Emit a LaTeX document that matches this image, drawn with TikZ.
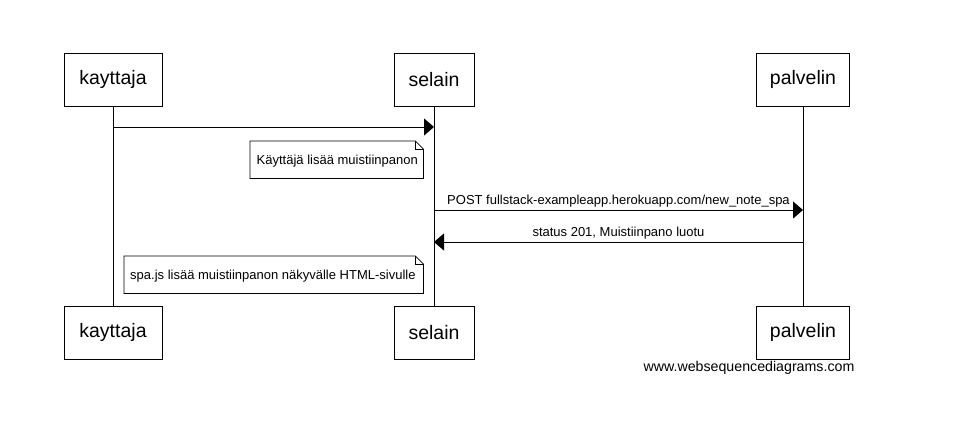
\documentclass[tikz,border=0pt]{standalone}
\usepackage{fontspec}
\setmainfont{Liberation Sans}
\usetikzlibrary{arrows.meta}
\begin{document}
\begin{tikzpicture}[x=1pt,y=-1pt,
  actor/.style={draw, line width=1pt, minimum height=53pt, inner sep=0pt, font=\fontsize{19.5}{22}\selectfont},
  life/.style={line width=1pt},
  msg/.style={line width=1pt, -{Triangle[length=10pt,width=17pt]}},
  lbl/.style={font=\fontsize{13}{15}\selectfont, inner sep=1pt, anchor=south},
  notetext/.style={font=\fontsize{13}{15}\selectfont, anchor=west, inner sep=0pt},
  noteline/.style={line width=0.8pt}
]
\useasboundingbox (0,0) rectangle (962,445);
\fill[white] (0,0) rectangle (962,445);

% actors top
\node[actor, minimum width=98pt] (kt) at (113,79.5) {kayttaja};
\node[actor, minimum width=80pt] (st) at (434,79.5) {selain};
\node[actor, minimum width=93pt] (pt) at (803,79.5) {palvelin};
% actors bottom
\node[actor, minimum width=98pt] (kb) at (113,332.5) {kayttaja};
\node[actor, minimum width=80pt] (sb) at (434,332.5) {selain};
\node[actor, minimum width=93pt] (pb) at (803,332.5) {palvelin};

% lifelines
\draw[life] (kt.south) -- (kb.north);
\draw[life] (st.south) -- (sb.north);
\draw[life] (pt.south) -- (pb.north);

% message points
\coordinate (k1) at (113,127);
\coordinate (s1) at (434,127);
\coordinate (s2) at (434,210);
\coordinate (p2) at (803,210);
\coordinate (s3) at (434,242);
\coordinate (p3) at (803,242);

\draw[msg] (k1) -- (s1);
\draw[msg] (s2) -- node[lbl, pos=0.5, yshift=1pt] {POST fullstack-exampleapp.herokuapp.com/new\_note\_spa} (p2);
\draw[msg] (p3) -- node[lbl, pos=0.5, yshift=1pt] {status 201, Muistiinpano luotu} (s3);

% note 1
\node[draw=none, minimum width=173pt, minimum height=37pt, anchor=north west, inner sep=0pt] (n1) at (250,141) {};
\draw[noteline] (n1.south west) -- (n1.north west) -- ([xshift=-8pt]n1.north east) -- ([yshift=-8pt]n1.north east) -- (n1.south east) -- cycle;
\draw[noteline] ([xshift=-8pt]n1.north east) -- ([xshift=-8pt,yshift=-8pt]n1.north east) -- ([yshift=-8pt]n1.north east);
\node[notetext] (t1) at ([xshift=6.5pt,yshift=-1pt]n1.west) {Käyttäjä lisää muistiinpanon};

% note 2
\node[draw=none, minimum width=299pt, minimum height=37pt, anchor=north west, inner sep=0pt] (n2) at (124,256) {};
\draw[noteline] (n2.south west) -- (n2.north west) -- ([xshift=-8pt]n2.north east) -- ([yshift=-8pt]n2.north east) -- (n2.south east) -- cycle;
\draw[noteline] ([xshift=-8pt]n2.north east) -- ([xshift=-8pt,yshift=-8pt]n2.north east) -- ([yshift=-8pt]n2.north east);
\node[notetext] (t2) at ([xshift=6pt,yshift=-1pt]n2.west) {spa.js lisää muistiinpanon näkyvälle HTML-sivulle};

% footer
\node[font=\fontsize{14.2}{16}\selectfont, inner sep=0pt] (footer) at (749,368) {www.websequencediagrams.com};
\end{tikzpicture}
\end{document}
